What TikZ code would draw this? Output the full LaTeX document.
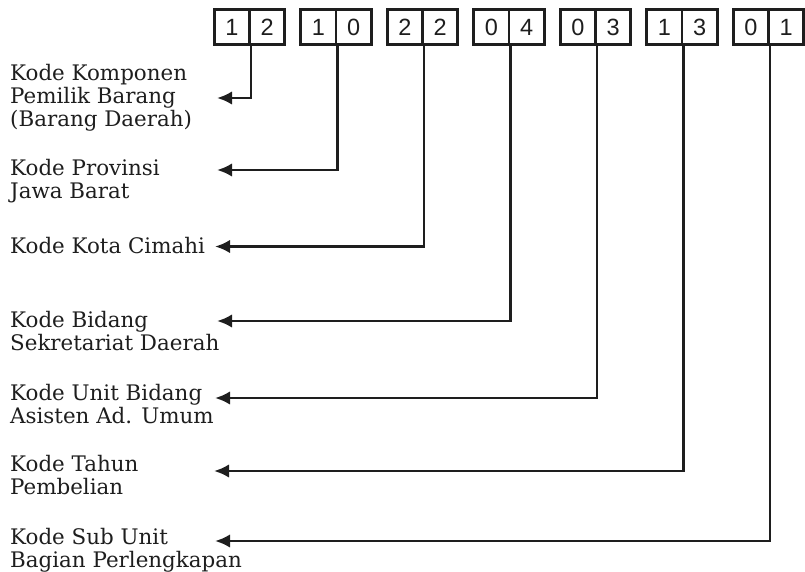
\documentclass[tikz,border=0pt]{standalone}
\usepackage{fontspec}
\setmainfont{DejaVu Serif}
\newfontfamily\digitfont{Liberation Sans}
\usetikzlibrary{arrows.meta}
\definecolor{ink}{HTML}{1E1E1E}
\begin{document}
\begin{tikzpicture}[x=1pt,y=-1pt,
  cell/.style={draw=ink, line width=2.8pt, minimum width=35.3pt, minimum height=35pt,
    inner sep=0pt, text=ink, font=\digitfont\fontsize{23.5}{23.5}\selectfont},
  caption/.style={anchor=base west, align=left, inner sep=0pt, text=ink,
    font=\fontsize{21.4}{23}\selectfont},
  link/.style={draw=ink, line width=2.8pt, -{Latex[length=15pt,width=13.5pt]}}]
\useasboundingbox (0,0) rectangle (805,571);

% code digits, two cells per group
\foreach \i/\a/\b in {1/1/2,2/1/0,3/2/2,4/0/4,5/0/3,6/1/3,7/0/1}{
  \pgfmathsetmacro\cx{249.5+86.5*(\i-1)}
  \node[cell] (l\i) at (\cx-17.65,27) {\a};
  \node[cell] (r\i) at (\cx+17.65,27) {\b};
}

% descriptions (placed by the baseline of their last line)
\node[caption] (t1) at (10,126) {Kode Komponen\\Pemilik Barang\\(Barang Daerah)};
\node[caption] (t2) at (10,198) {Kode Provinsi\\Jawa Barat};
\node[caption] (t3) at (10,253) {Kode Kota Cimahi};
\node[caption] (t4) at (10,350) {Kode Bidang\\Sekretariat Daerah};
\node[caption] (t5) at (10,423) {Kode Unit Bidang\\Asisten Ad. Umum};
\node[caption] (t6) at (10,494) {Kode Tahun\\Pembelian};
\node[caption] (t7) at (10,567) {Kode Sub Unit\\Bagian Perlengkapan};

% arrow ends beside the descriptions
\coordinate (e1) at (217,98);
\coordinate (e2) at (217,170);
\coordinate (e3) at (215,246.5);
\coordinate (e4) at (217,321);
\coordinate (e5) at (215,398);
\coordinate (e6) at (214,471);
\coordinate (e7) at (215,541);

\foreach \i in {1,...,7}{
  \draw[link] (l\i.south east) |- (e\i);
}
\end{tikzpicture}
\end{document}
